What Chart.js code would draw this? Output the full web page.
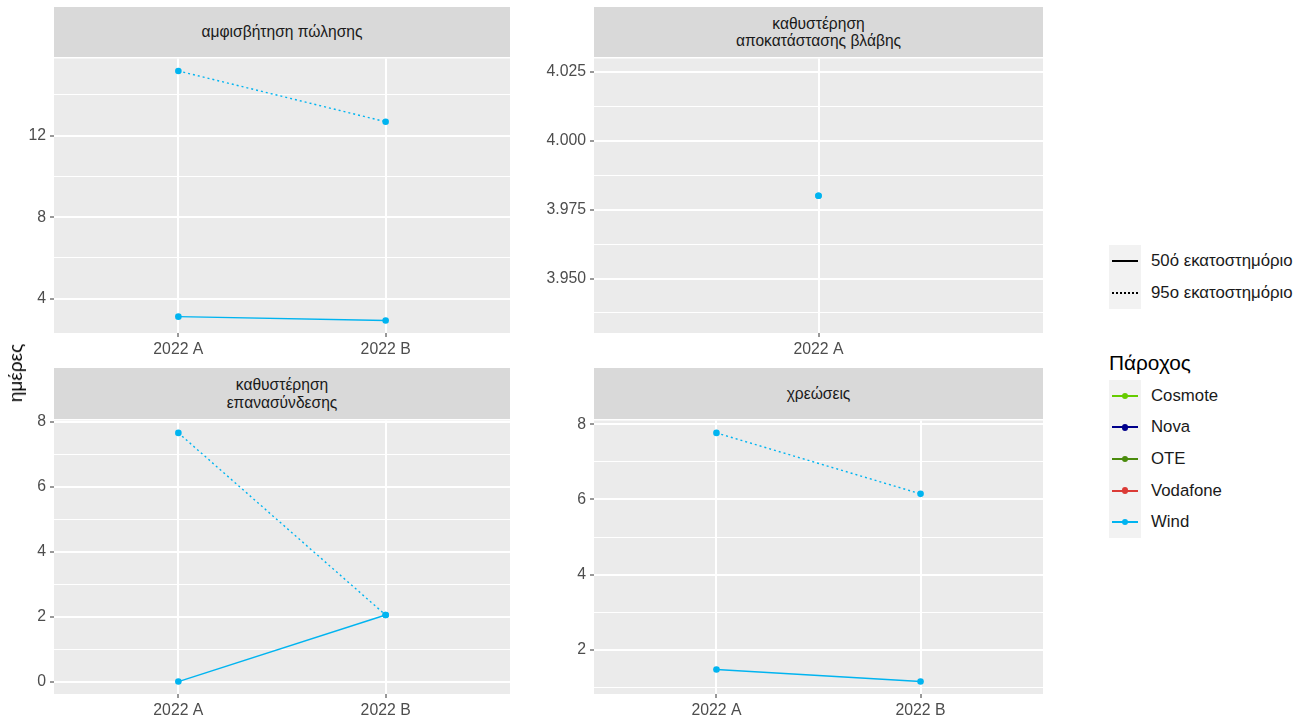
<!DOCTYPE html>
<html>
<head>
<meta charset="utf-8">
<script src="https://cdn.jsdelivr.net/npm/chart.js@4.4.0/dist/chart.umd.min.js"></script>
<style>
  html, body { margin: 0; padding: 0; background: #ffffff; }
  #root { position: relative; width: 1311px; height: 724px; overflow: hidden; font-family: "Liberation Sans", Arial, sans-serif; }
  canvas { position: absolute; }
  .strip { position: absolute; background: #D9D9D9; color: #1A1A1A; font-size: 15.6px; line-height: 17.5px;
           display: flex; align-items: center; justify-content: center; text-align: center; white-space: pre-line; }
  .ytitle { position: absolute; left: 16px; top: 373px; transform: translate(-50%, -50%) rotate(-90deg);
            font-size: 19px; color: #000; white-space: nowrap; }
  .lg { position: absolute; font-size: 16.8px; color: #1A1A1A; white-space: nowrap; }
  .keybox { position: absolute; background: #F2F2F2; }
  .kline { position: absolute; height: 0; }
  .kdot { position: absolute; width: 6.6px; height: 6.6px; border-radius: 50%; }
</style>
</head>
<body>
<div id="root"></div>
<script>
// ---------------- DATA ----------------
const providers = ['Cosmote', 'Nova', 'OTE', 'Vodafone', 'Wind'];
const providerColors = ['#66CC00', '#00008B', '#4A8B0C', '#DB3B36', '#00B4F0'];
const percentileLabels = ['50ό εκατοστημόριο', '95ο εκατοστημόριο'];
const facetTitles = ['αμφισβήτηση πώλησης', 'καθυστέρηση\nαποκατάστασης βλάβης', 'καθυστέρηση\nεπανασύνδεσης', 'χρεώσεις'];
const yAxisTitle = 'ημέρες';

const periodsSale = ['2022 A', '2022 B'];
const windSaleP50 = [3.12, 2.93];
const windSaleP95 = [15.17, 12.68];

const periodsRepair = ['2022 A'];
const windRepairP50 = [3.98];
const windRepairP95 = [3.98];

const periodsReconnect = ['2022 A', '2022 B'];
const windReconnectP50 = [0, 2.05];
const windReconnectP95 = [7.66, 2.05];

const periodsCharges = ['2022 A', '2022 B'];
const windChargesP50 = [1.48, 1.16];
const windChargesP95 = [7.77, 6.15];

const majorSteps = [4, 0.025, 2, 2];

// ---------------- LAYOUT ----------------
const root = document.getElementById('root');
const PAD_TOP = 12, PAD_RIGHT = 10, YAXIS_W = 54, XAXIS_H = 32;
const AXIS_FONT = { family: '"Liberation Sans", Arial, sans-serif', size: 15.8 };
const panels = [
  { left: 0,   top: 57,  right: 510,  bottom: 333, stripTop: 7,   cats: periodsSale,      p50: windSaleP50,      p95: windSaleP95 },
  { left: 540, top: 57,  right: 1043, bottom: 333, stripTop: 7,   cats: periodsRepair,    p50: windRepairP50,    p95: windRepairP95 },
  { left: 0,   top: 419, right: 510,  bottom: 694, stripTop: 368, cats: periodsReconnect, p50: windReconnectP50, p95: windReconnectP95 },
  { left: 540, top: 419, right: 1043, bottom: 694, stripTop: 368, cats: periodsCharges,   p50: windChargesP50,   p95: windChargesP95 }
];

const panelBg = {
  id: 'panelBg',
  beforeDraw(chart) {
    const { ctx, chartArea: a } = chart;
    ctx.save();
    ctx.fillStyle = '#EBEBEB';
    ctx.fillRect(a.left, a.top, a.right - a.left, a.bottom - a.top);
    ctx.restore();
  }
};

function isMajor(v, step) {
  const r = v / step;
  return Math.abs(r - Math.round(r)) < 1e-6;
}
function decimalsOf(step) {
  const s = String(step);
  return s.includes('.') ? s.split('.')[1].length : 0;
}

const windIdx = providers.indexOf('Wind');
const windColor = providerColors[windIdx];

panels.forEach((p, i) => {
  const step = majorSteps[i];
  const all = p.p50.concat(p.p95);
  let lo = Math.min(...all), hi = Math.max(...all);
  const span = hi - lo;
  if (span === 0) { lo -= Math.abs(lo) * 0.0125; hi += Math.abs(hi) * 0.0125; }
  else { lo -= span * 0.05; hi += span * 0.05; }
  const dec = decimalsOf(step);

  // strip
  const strip = document.createElement('div');
  strip.className = 'strip';
  strip.style.left = (p.left + YAXIS_W) + 'px';
  strip.style.width = (p.right - p.left - YAXIS_W) + 'px';
  strip.style.top = p.stripTop + 'px';
  strip.style.height = (p.top - p.stripTop) + 'px';
  strip.textContent = facetTitles[i];
  root.appendChild(strip);

  const cv = document.createElement('canvas');
  const W = p.right - p.left + PAD_RIGHT;
  const H = PAD_TOP + (p.bottom - p.top) + XAXIS_H;
  cv.width = W; cv.height = H;
  cv.style.width = W + 'px'; cv.style.height = H + 'px';
  cv.style.left = p.left + 'px';
  cv.style.top = (p.top - PAD_TOP) + 'px';
  root.appendChild(cv);

  const n = p.cats.length;
  const mk = (arr) => arr.map((v, k) => ({ x: k, y: v }));

  new Chart(cv, {
    type: 'line',
    data: {
      datasets: [
        { label: providers[windIdx] + ' ' + percentileLabels[0], data: mk(p.p50), borderColor: windColor, backgroundColor: windColor,
          borderWidth: 1.4, pointRadius: 3.3, pointHoverRadius: 3.3, pointBorderWidth: 0, fill: false, tension: 0 },
        { label: providers[windIdx] + ' ' + percentileLabels[1], data: mk(p.p95), borderColor: windColor, backgroundColor: windColor,
          borderWidth: 1.4, borderDash: [2, 3], pointRadius: 3.3, pointHoverRadius: 3.3, pointBorderWidth: 0, fill: false, tension: 0 }
      ]
    },
    options: {
      responsive: false,
      animation: false,
      events: [],
      layout: { padding: { top: PAD_TOP, right: PAD_RIGHT, left: 0, bottom: 0 } },
      plugins: { legend: { display: false }, tooltip: { enabled: false } },
      scales: {
        x: {
          type: 'linear',
          min: -0.6, max: n - 1 + 0.6,
          bounds: 'data',
          afterBuildTicks: (s) => { s.ticks = p.cats.map((c, k) => ({ value: k })); },
          afterFit: (s) => { s.height = XAXIS_H; },
          border: { display: false },
          grid: { color: '#FFFFFF', lineWidth: 2, drawTicks: true, tickLength: 4, tickColor: '#333333', tickWidth: 1 },
          ticks: {
            autoSkip: false, maxRotation: 0, padding: 3,
            color: '#4D4D4D', font: AXIS_FONT,
            callback: (v) => p.cats[Math.round(v)] ?? ''
          }
        },
        y: {
          type: 'linear',
          min: lo, max: hi,
          bounds: 'data',
          afterBuildTicks: (s) => {
            const half = step / 2;
            const start = Math.ceil(lo / half - 1e-9), end = Math.floor(hi / half + 1e-9);
            const t = [];
            for (let k = start; k <= end; k++) t.push({ value: +(k * half).toFixed(8) });
            s.ticks = t;
          },
          afterFit: (s) => { s.width = YAXIS_W; },
          border: { display: false },
          grid: {
            color: '#FFFFFF',
            lineWidth: (c) => (c.tick && isMajor(c.tick.value, step)) ? 2 : 1,
            drawTicks: true, tickLength: 4, tickWidth: 1,
            tickColor: (c) => (c.tick && isMajor(c.tick.value, step)) ? '#333333' : 'rgba(0,0,0,0)'
          },
          ticks: {
            autoSkip: false, padding: 4,
            color: '#4D4D4D', font: AXIS_FONT,
            callback: (v) => isMajor(v, step) ? v.toFixed(dec) : ''
          }
        }
      }
    },
    plugins: [panelBg]
  });
});

// y axis title
const yt = document.createElement('div');
yt.className = 'ytitle';
yt.textContent = yAxisTitle;
root.appendChild(yt);

// ---------------- LEGENDS (HTML) ----------------
function addEl(cls, styles, text) {
  const d = document.createElement('div');
  d.className = cls;
  Object.assign(d.style, styles);
  if (text !== undefined) d.textContent = text;
  root.appendChild(d);
  return d;
}
const KEY_L = 1109, KEY_W = 32, KEY_H = 32;
// linetype legend
const ltTop = 245;
addEl('keybox', { left: KEY_L + 'px', top: ltTop + 'px', width: KEY_W + 'px', height: (KEY_H * 2) + 'px' });
percentileLabels.forEach((lab, k) => {
  const cy = ltTop + KEY_H * k + KEY_H / 2;
  addEl('kline', { left: (KEY_L + 3) + 'px', top: (cy - 1) + 'px', width: (KEY_W - 6) + 'px',
                   borderTop: k === 0 ? '2px solid #000' : '2px dotted #000' });
  addEl('lg', { left: '1151px', top: (cy - 10) + 'px', lineHeight: '20px' }, lab);
});
// colour legend
addEl('lg', { left: '1109px', top: '351px', fontSize: '20.8px', lineHeight: '24px', color: '#000' }, 'Πάροχος');
const clTop = 380, CL_H = 31.6;
addEl('keybox', { left: KEY_L + 'px', top: clTop + 'px', width: KEY_W + 'px', height: (CL_H * providers.length) + 'px' });
providers.forEach((name, k) => {
  const cy = clTop + CL_H * k + CL_H / 2;
  addEl('kline', { left: (KEY_L + 3) + 'px', top: (cy - 1) + 'px', width: (KEY_W - 6) + 'px',
                   borderTop: '2px solid ' + providerColors[k] });
  addEl('kdot', { left: (KEY_L + KEY_W / 2 - 3.3) + 'px', top: (cy - 3.3) + 'px', background: providerColors[k] });
  addEl('lg', { left: '1151px', top: (cy - 10) + 'px', lineHeight: '20px' }, name);
});
</script>
</body>
</html>
